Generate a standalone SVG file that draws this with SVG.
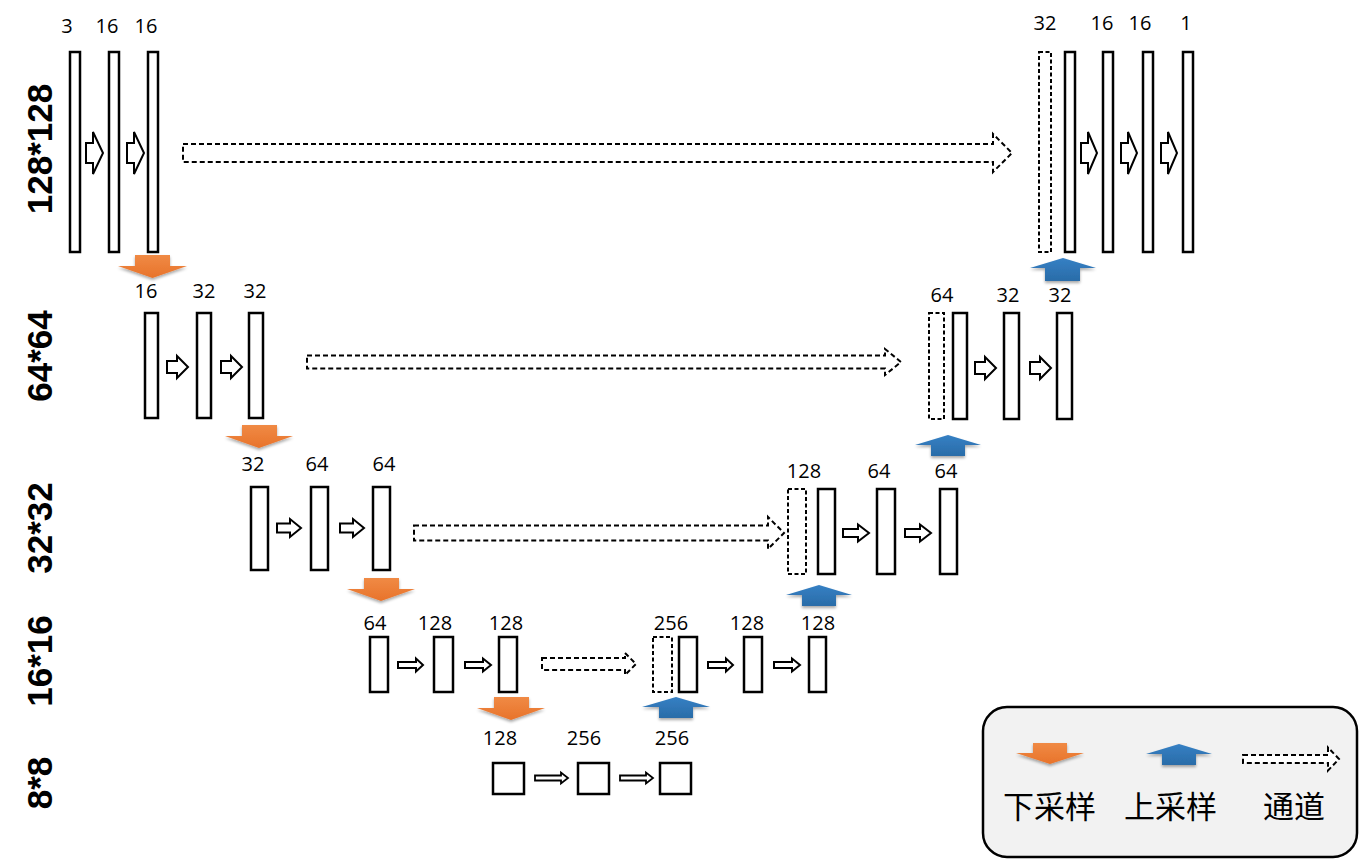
<svg xmlns="http://www.w3.org/2000/svg" width="1360" height="868" viewBox="0 0 1360 868">
<defs>
<style>
.bar{fill:#fff;stroke:#000;stroke-width:2.5}
.dbar{fill:#fff;stroke:#000;stroke-width:2;stroke-dasharray:4 2.5}
.ha{fill:#fff;stroke:#000;stroke-width:2;stroke-linejoin:miter}
.da{fill:#fff;stroke:#000;stroke-width:2;stroke-dasharray:5 3}
.lbl{font-family:"Open Sans","Liberation Sans",sans-serif;font-size:20px;fill:#000;text-anchor:middle}
.row{font-family:"Liberation Sans",Arial,sans-serif;font-size:35px;font-weight:bold;fill:#000;text-anchor:middle}
.leg{font-family:"Liberation Sans","Noto Sans CJK SC",sans-serif;font-size:31px;fill:#000}
.down{fill:url(#og)}
.up{fill:url(#bg)}
</style>
<linearGradient id="og" x1="0" y1="0" x2="0" y2="1">
<stop offset="0" stop-color="#F08A45"/>
<stop offset="1" stop-color="#E8732A"/>
</linearGradient>
<linearGradient id="bg" x1="0" y1="0" x2="0" y2="1">
<stop offset="0" stop-color="#3580C4"/>
<stop offset="1" stop-color="#2A6CA8"/>
</linearGradient>
<filter id="sh" x="-20%" y="-30%" width="140%" height="170%">
<feGaussianBlur in="SourceAlpha" stdDeviation="1.5"/>
<feOffset dy="2" result="b"/>
<feComponentTransfer><feFuncA type="linear" slope="0.35"/></feComponentTransfer>
<feMerge><feMergeNode/><feMergeNode in="SourceGraphic"/></feMerge>
</filter>
</defs>
<rect width="1360" height="868" fill="#fff"/>

<g id="row-labels">
<text class="row" transform="translate(52,149) rotate(-90)">128*128</text>
<text class="row" transform="translate(52,356) rotate(-90)">64*64</text>
<text class="row" transform="translate(52,528) rotate(-90)">32*32</text>
<text class="row" transform="translate(52,661) rotate(-90)">16*16</text>
<text class="row" transform="translate(52,783) rotate(-90)">8*8</text>
</g>

<g id="enc1">
<rect class="bar" x="70" y="52" width="10" height="200"/>
<rect class="bar" x="109" y="52" width="10" height="200"/>
<rect class="bar" x="148" y="52" width="10" height="200"/>
<text class="lbl" x="67" y="33">3</text>
<text class="lbl" x="107" y="33">16</text>
<text class="lbl" x="146" y="33">16</text>
</g>
<g id="dec1">
<rect class="dbar" x="1039" y="52" width="12" height="200"/>
<rect class="bar" x="1065" y="52" width="10" height="200"/>
<rect class="bar" x="1103" y="52" width="10" height="200"/>
<rect class="bar" x="1143" y="52" width="10" height="200"/>
<rect class="bar" x="1183" y="52" width="10" height="200"/>
<text class="lbl" x="1045" y="30">32</text>
<text class="lbl" x="1102" y="30">16</text>
<text class="lbl" x="1140" y="30">16</text>
<text class="lbl" x="1186" y="30">1</text>
</g>

<g id="enc2">
<rect class="bar" x="145" y="313" width="13" height="105"/>
<rect class="bar" x="197" y="313" width="14" height="105"/>
<rect class="bar" x="249" y="313" width="14" height="105"/>
<text class="lbl" x="146" y="298">16</text>
<text class="lbl" x="204" y="298">32</text>
<text class="lbl" x="255" y="298">32</text>
</g>
<g id="dec2">
<rect class="dbar" x="929" y="313" width="15" height="106"/>
<rect class="bar" x="953" y="313" width="14" height="106"/>
<rect class="bar" x="1004" y="313" width="15" height="106"/>
<rect class="bar" x="1057" y="313" width="15" height="106"/>
<text class="lbl" x="942" y="302">64</text>
<text class="lbl" x="1008" y="302">32</text>
<text class="lbl" x="1060" y="302">32</text>
</g>

<g id="enc3">
<rect class="bar" x="251" y="487" width="17" height="83"/>
<rect class="bar" x="311" y="487" width="17" height="83"/>
<rect class="bar" x="373" y="487" width="17" height="83"/>
<text class="lbl" x="253" y="471">32</text>
<text class="lbl" x="317" y="471">64</text>
<text class="lbl" x="384" y="471">64</text>
</g>
<g id="dec3">
<rect class="dbar" x="788" y="489" width="18" height="85"/>
<rect class="bar" x="818" y="489" width="17" height="85"/>
<rect class="bar" x="877" y="489" width="18" height="85"/>
<rect class="bar" x="940" y="489" width="17" height="85"/>
<text class="lbl" x="804" y="478">128</text>
<text class="lbl" x="879" y="478">64</text>
<text class="lbl" x="946" y="478">64</text>
</g>

<g id="enc4">
<rect class="bar" x="370" y="637" width="18" height="55"/>
<rect class="bar" x="434" y="637" width="19" height="55"/>
<rect class="bar" x="499" y="637" width="18" height="55"/>
<text class="lbl" x="375" y="630">64</text>
<text class="lbl" x="435" y="630">128</text>
<text class="lbl" x="506" y="630">128</text>
</g>
<g id="dec4">
<rect class="dbar" x="653" y="637" width="19" height="55"/>
<rect class="bar" x="679" y="637" width="18" height="55"/>
<rect class="bar" x="744" y="637" width="18" height="55"/>
<rect class="bar" x="809" y="637" width="17" height="55"/>
<text class="lbl" x="671" y="630">256</text>
<text class="lbl" x="747" y="630">128</text>
<text class="lbl" x="818" y="630">128</text>
</g>

<g id="bottleneck">
<rect class="bar" x="493" y="763" width="31" height="31"/>
<rect class="bar" x="578" y="763" width="31" height="31"/>
<rect class="bar" x="660" y="763" width="31" height="31"/>
<text class="lbl" x="500" y="745">128</text>
<text class="lbl" x="584" y="745">256</text>
<text class="lbl" x="672" y="745">256</text>
</g>

<g id="connectors">
<path class="ha" d="M86 143 L93 143 L93 132 L103 153 L93 174 L93 163 L86 163 Z"/>
<path class="ha" d="M127 143 L134 143 L134 132 L144 153 L134 174 L134 163 L127 163 Z"/>
<path class="ha" d="M1081 143 L1088 143 L1088 132 L1097 153 L1088 174 L1088 163 L1081 163 Z"/>
<path class="ha" d="M1121 143 L1128 143 L1128 132 L1137 153 L1128 174 L1128 163 L1121 163 Z"/>
<path class="ha" d="M1161 143 L1168 143 L1168 132 L1177 153 L1168 174 L1168 163 L1161 163 Z"/>
<path class="ha" d="M167 361 L177 361 L177 356 L188 367 L177 378 L177 373 L167 373 Z"/>
<path class="ha" d="M221 361 L231 361 L231 356 L242 367 L231 378 L231 373 L221 373 Z"/>
<path class="ha" d="M975 362 L985 362 L985 357 L996 368 L985 379 L985 374 L975 374 Z"/>
<path class="ha" d="M1030 362 L1040 362 L1040 357 L1051 368 L1040 379 L1040 374 L1030 374 Z"/>
<path class="ha" d="M277 523.5 L290 523.5 L290 519 L301 528 L290 537 L290 532.5 L277 532.5 Z"/>
<path class="ha" d="M340 523.5 L353 523.5 L353 519 L364 528 L353 537 L353 532.5 L340 532.5 Z"/>
<path class="ha" d="M843 529 L858 529 L858 524.5 L869 533 L858 541.5 L858 537 L843 537 Z"/>
<path class="ha" d="M905 529 L920 529 L920 524.5 L931 533 L920 541.5 L920 537 L905 537 Z"/>
<path class="ha" d="M398 662 L416 662 L416 658.5 L423 665 L416 671.5 L416 668 L398 668 Z"/>
<path class="ha" d="M465 662 L483 662 L483 658.5 L491 665 L483 671.5 L483 668 L465 668 Z"/>
<path class="ha" d="M708 662 L726 662 L726 658.5 L733 665 L726 671.5 L726 668 L708 668 Z"/>
<path class="ha" d="M774 662 L792 662 L792 658.5 L800 665 L792 671.5 L792 668 L774 668 Z"/>
<path class="ha" style="stroke-width:1.8" d="M535 775.5 L561 775.5 L561 772.5 L568 778 L561 783.5 L561 780.5 L535 780.5 Z"/>
<path class="ha" style="stroke-width:1.8" d="M620 775.5 L646 775.5 L646 772.5 L653 778 L646 783.5 L646 780.5 L620 780.5 Z"/>

<path class="da" d="M183 144 L993 144 L993 134 L1012 153 L993 172 L993 162 L183 162 Z"/>
<path class="da" d="M307 355.5 L885 355.5 L885 349 L901 362 L885 375 L885 368.5 L307 368.5 Z"/>
<path class="da" d="M414 525.5 L768 525.5 L768 517 L784 533 L768 549 L768 540.5 L414 540.5 Z"/>
<path class="da" d="M542 658 L625 658 L625 653 L636 664 L625 675 L625 670 L542 670 Z"/>

<g filter="url(#sh)">
<path class="down" d="M135 255 L170 255 L170 266 L187 266 L152.5 278 L118 266 L135 266 Z"/>
<path class="down" d="M242 425 L277 425 L277 436 L293 436 L259 448 L225 436 L242 436 Z"/>
<path class="down" d="M364 578 L399 578 L399 589 L415 589 L381 601 L347 589 L364 589 Z"/>
<path class="down" d="M494 697 L529 697 L529 708 L545 708 L511 720 L477 708 L494 708 Z"/>
<path class="up" d="M1063 258 L1096 268 L1080 268 L1080 281 L1045 281 L1045 268 L1030 268 Z"/>
<path class="up" d="M948 435 L981 445 L965 445 L965 456 L931 456 L931 445 L915 445 Z"/>
<path class="up" d="M819 585 L852 595 L836 595 L836 606 L802 606 L802 595 L786 595 Z"/>
<path class="up" d="M676 697 L710 707 L693 707 L693 718 L659 718 L659 707 L642 707 Z"/>
</g>
</g>

<g id="legend">
<rect x="983" y="707" width="374" height="150" rx="24" ry="24" fill="#f2f2f2" stroke="#000" stroke-width="2.5"/>
<g filter="url(#sh)">
<path class="down" d="M1033 743 L1067 743 L1067 753 L1084 753 L1050 764 L1016 753 L1033 753 Z"/>
<path class="up" d="M1179 744 L1212 754 L1196 754 L1196 765 L1162 765 L1162 754 L1146 754 Z"/>
</g>
<path class="da" d="M1243 755 L1328 755 L1328 747.5 L1339 759 L1328 770.5 L1328 763 L1243 763 Z"/>
<text class="leg" x="1003" y="818">下采样</text>
<text class="leg" x="1124" y="818">上采样</text>
<text class="leg" x="1263" y="818">通道</text>
</g>
</svg>
